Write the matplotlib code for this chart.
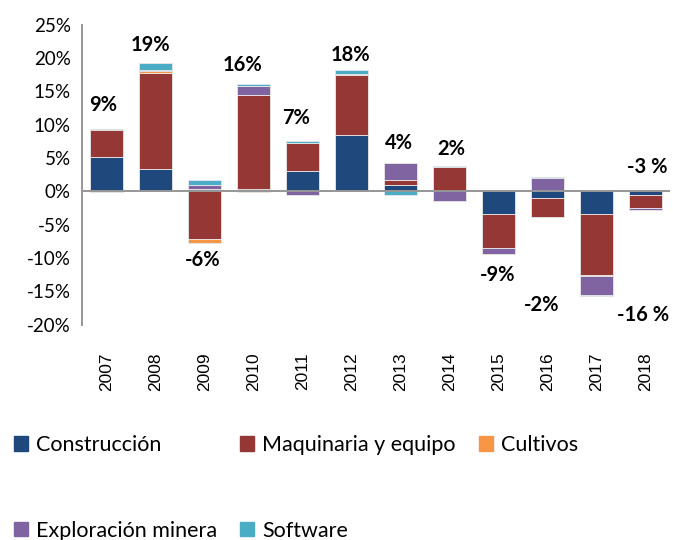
import numpy as np
import matplotlib.pyplot as plt
from matplotlib.patches import Patch

# Annual contribution to investment growth (percentage points)
years = ['2007', '2008', '2009', '2010', '2011', '2012',
         '2013', '2014', '2015', '2016', '2017', '2018']
construccion = [5.1, 3.3, 0.3, 0.4, 3.0, 8.4, 1.0, 0.0, -3.4, -1.0, -3.4, -0.6]
maquinaria = [4.1, 14.4, -7.2, 14.1, 4.3, 9.1, 0.7, 3.6, -5.1, -2.8, -9.1, -1.9]
cultivos = [0.0, 0.3, -0.6, -0.1, 0.0, 0.15, 0.0, 0.0, 0.0, 0.0, -0.25, 0.0]
exploracion = [0.1, 0.2, 0.7, 1.25, -0.6, 0.0, 2.5, -1.45, -0.95, 2.05, -2.75, -0.3]
software = [-0.05, 1.0, 0.7, 0.3, 0.25, 0.5, -0.5, 0.2, 0.0, 0.1, -0.25, 0.0]
totals = ['9%', '19%', '-6%', '16%', '7%', '18%', '4%', '2%', '-9%', '-2%', '-16 %', '-3 %']

series_names = ['Construcción', 'Maquinaria y equipo', 'Cultivos',
                'Exploración minera', 'Software']
series_data = [construccion, maquinaria, cultivos, exploracion, software]
colors = ['#1F497D', '#953735', '#F79646', '#8064A2', '#4BACC6']

# where the total labels sit (x shift in category units, y in %)
label_pos = [(-0.06, 12.9), (-0.1, 21.9), (-0.04, -10.3), (-0.22, 18.9),
             (-0.14, 10.9), (-0.02, 20.4), (-0.04, 7.2), (0.04, 6.3),
             (-0.02, -12.6), (-0.12, -17.1), (0.96, -18.6), (0.04, 3.6)]

fig = plt.figure(figsize=(6.73, 5.40), dpi=100)
ax = fig.add_axes([82 / 673, 1 - 324.5 / 540, 588 / 673, 300 / 540])

x = np.arange(len(years))
pos_base = np.zeros(len(years))
neg_base = np.zeros(len(years))
for name, vals, col in zip(series_names, series_data, colors):
    vals = np.array(vals)
    bottoms = np.where(vals >= 0, pos_base, neg_base)
    ax.bar(x, vals, bottom=bottoms, width=0.67, color=col,
           edgecolor='#E8E8E8', linewidth=0.6, label=name, zorder=2)
    pos_base = pos_base + np.clip(vals, 0, None)
    neg_base = neg_base + np.clip(vals, None, 0)

for i, (txt, (dx, yy)) in enumerate(zip(totals, label_pos)):
    ax.text(i + dx, yy, txt, ha='center', va='center', fontsize=14.5,
            fontweight='bold', family='Lato')

ax.axhline(0, color='#969696', linewidth=1.4, zorder=3)
ax.set_xlim(-0.5, 11.5)
ax.set_ylim(-20, 25)
ax.set_yticks(np.arange(-20, 26, 5))
ax.set_yticklabels([f'{v}%' for v in range(-20, 26, 5)], family='Lato', fontsize=13.5)
ax.set_xticks(x)
ax.set_xticklabels(years, rotation=90, family='Liberation Sans', fontsize=12.5)
ax.tick_params(axis='y', length=0, pad=8)
ax.tick_params(axis='x', length=0, pad=20)
for s in ['top', 'right', 'bottom']:
    ax.spines[s].set_visible(False)
ax.spines['left'].set_color('#969696')
ax.spines['left'].set_linewidth(1.4)

handles = [Patch(color=c) for c in colors]
order = [0, 3, 1, 4, 2]
fig.legend([handles[k] for k in order], [series_names[k] for k in order],
           ncol=3, loc='upper left', bbox_to_anchor=(14 / 673, 1 - 435 / 540),
           frameon=False, prop={'family': 'Lato', 'size': 15.5},
           handlelength=0.65, handleheight=0.65, handletextpad=0.35,
           columnspacing=1.1, labelspacing=3.05, borderpad=0, borderaxespad=0)

fig.savefig('out.png', dpi=100)
